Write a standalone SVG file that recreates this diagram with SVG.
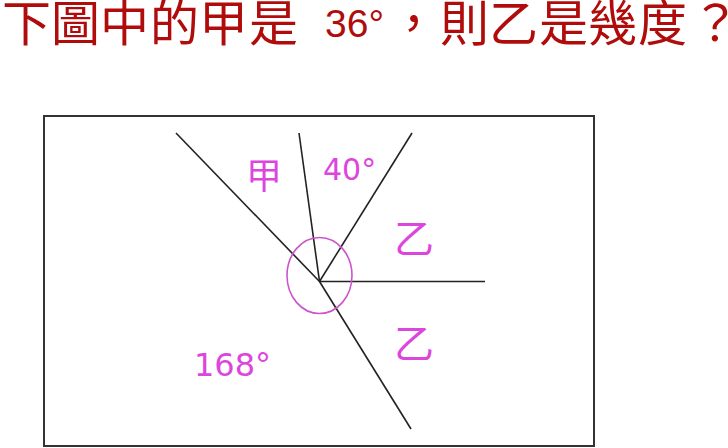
<svg xmlns="http://www.w3.org/2000/svg" width="728" height="448" viewBox="0 0 728 448">
<style>
.title{font-family:"Noto Sans CJK TC","Noto Sans CJK SC",sans-serif;font-size:49px;fill:#b00c0c}
.tnum{font-family:"Liberation Sans",Arial,sans-serif;font-size:39px;fill:#b00c0c}
.lab{font-family:"Noto Sans CJK TC",sans-serif;fill:#dc46dc}
.num{font-family:"DejaVu Sans",Verdana,sans-serif;fill:#dc46dc}
.ray{stroke:#222;stroke-width:1.6;fill:none}
</style>
<rect width="728" height="448" fill="#fff"/>
<g id="title">
<text class="title" y="41"><tspan x="2">下</tspan><tspan x="51">圖</tspan><tspan x="100">中</tspan><tspan x="150">的</tspan><tspan x="199">甲</tspan><tspan x="249">是</tspan></text>
<text class="tnum" x="325" y="37">36°</text>
<text class="title" y="41"><tspan x="389">，</tspan><tspan x="440">則</tspan><tspan x="489">乙</tspan><tspan x="539">是</tspan><tspan x="588">幾</tspan><tspan x="638">度</tspan><tspan x="691">？</tspan></text>
</g>
<g id="frame"><rect x="44" y="116" width="550" height="330" fill="none" stroke="#333" stroke-width="2"/></g>
<g id="connectors">
<line class="ray" x1="176" y1="133" x2="319.5" y2="281.5"/>
<line class="ray" x1="299" y1="133" x2="319.5" y2="281.5"/>
<line class="ray" x1="412" y1="133" x2="319.5" y2="281.5"/>
<line class="ray" x1="319.5" y1="281.5" x2="485" y2="281.5"/>
<line class="ray" x1="319.5" y1="281.5" x2="411" y2="429"/>
</g>
<g id="arc"><ellipse cx="319.5" cy="275.5" rx="32.5" ry="38" fill="none" stroke="#cc55cc" stroke-width="1.6"/></g>
<g id="label-jia"><text class="lab" x="246" y="189" font-size="36">甲</text></g>
<g id="label-40"><text class="num" x="323" y="180" font-size="30">40°</text></g>
<g id="label-yi1"><text class="lab" x="394" y="253" font-size="40">乙</text></g>
<g id="label-yi2"><text class="lab" x="394" y="358" font-size="40">乙</text></g>
<g id="label-168"><text class="num" x="194" y="376" font-size="32">168°</text></g>
</svg>
